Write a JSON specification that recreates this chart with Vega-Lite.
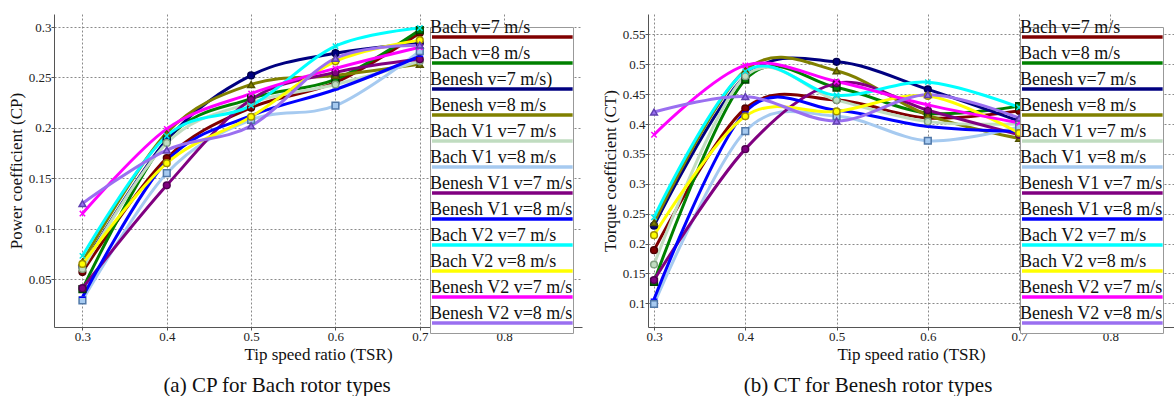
{
  "$schema": "https://vega.github.io/schema/vega-lite/v6.json",
  "padding": {"left": 7, "top": 14, "right": 0, "bottom": 0},
  "config": {
    "view": {"stroke": null},
    "font": "Liberation Serif",
    "axis": {"labelFont": "Liberation Serif", "labelFontSize": 13, "labelColor": "#222", "titleFont": "Liberation Serif", "titleFontSize": 17, "titleFontWeight": "normal", "titleColor": "#111", "gridColor": "#8a8a8a", "gridDash": [2, 2], "gridWidth": 1, "domainColor": "#555", "tickColor": "#555", "tickSize": 3, "labelPadding": 0, "titlePadding": 3},
    "title": {"font": "Liberation Serif", "fontSize": 21, "fontWeight": "normal", "color": "#111"}
  },
  "datasets": {
    "cp": [
      {"s": "Bach v=7 m/s", "x": 0.3, "y": 0.057}, {"s": "Bach v=7 m/s", "x": 0.4, "y": 0.170}, {"s": "Bach v=7 m/s", "x": 0.5, "y": 0.220}, {"s": "Bach v=7 m/s", "x": 0.6, "y": 0.245}, {"s": "Bach v=7 m/s", "x": 0.7, "y": 0.294},
      {"s": "Bach v=8 m/s", "x": 0.3, "y": 0.040}, {"s": "Bach v=8 m/s", "x": 0.4, "y": 0.188}, {"s": "Bach v=8 m/s", "x": 0.5, "y": 0.229}, {"s": "Bach v=8 m/s", "x": 0.6, "y": 0.248}, {"s": "Bach v=8 m/s", "x": 0.7, "y": 0.297},
      {"s": "Benesh v=7 m/s)", "x": 0.3, "y": 0.062}, {"s": "Benesh v=7 m/s)", "x": 0.4, "y": 0.188}, {"s": "Benesh v=7 m/s)", "x": 0.5, "y": 0.252}, {"s": "Benesh v=7 m/s)", "x": 0.6, "y": 0.274}, {"s": "Benesh v=7 m/s)", "x": 0.7, "y": 0.284},
      {"s": "Benesh v=8 m/s", "x": 0.3, "y": 0.067}, {"s": "Benesh v=8 m/s", "x": 0.4, "y": 0.195}, {"s": "Benesh v=8 m/s", "x": 0.5, "y": 0.243}, {"s": "Benesh v=8 m/s", "x": 0.6, "y": 0.252}, {"s": "Benesh v=8 m/s", "x": 0.7, "y": 0.263},
      {"s": "Bach V1 v=7 m/s", "x": 0.3, "y": 0.060}, {"s": "Bach V1 v=7 m/s", "x": 0.4, "y": 0.185}, {"s": "Bach V1 v=7 m/s", "x": 0.5, "y": 0.225}, {"s": "Bach V1 v=7 m/s", "x": 0.6, "y": 0.243}, {"s": "Bach V1 v=7 m/s", "x": 0.7, "y": 0.266},
      {"s": "Bach V1 v=8 m/s", "x": 0.3, "y": 0.029}, {"s": "Bach V1 v=8 m/s", "x": 0.4, "y": 0.155}, {"s": "Bach V1 v=8 m/s", "x": 0.5, "y": 0.208}, {"s": "Bach V1 v=8 m/s", "x": 0.6, "y": 0.222}, {"s": "Bach V1 v=8 m/s", "x": 0.7, "y": 0.276},
      {"s": "Benesh V1 v=7 m/s", "x": 0.3, "y": 0.041}, {"s": "Benesh V1 v=7 m/s", "x": 0.4, "y": 0.143}, {"s": "Benesh V1 v=7 m/s", "x": 0.5, "y": 0.228}, {"s": "Benesh V1 v=7 m/s", "x": 0.6, "y": 0.255}, {"s": "Benesh V1 v=7 m/s", "x": 0.7, "y": 0.268},
      {"s": "Benesh V1 v=8 m/s", "x": 0.3, "y": 0.032}, {"s": "Benesh V1 v=8 m/s", "x": 0.4, "y": 0.167}, {"s": "Benesh V1 v=8 m/s", "x": 0.5, "y": 0.212}, {"s": "Benesh V1 v=8 m/s", "x": 0.6, "y": 0.238}, {"s": "Benesh V1 v=8 m/s", "x": 0.7, "y": 0.271},
      {"s": "Bach V2 v=7 m/s", "x": 0.3, "y": 0.073}, {"s": "Bach V2 v=7 m/s", "x": 0.4, "y": 0.192}, {"s": "Bach V2 v=7 m/s", "x": 0.5, "y": 0.222}, {"s": "Bach V2 v=7 m/s", "x": 0.6, "y": 0.281}, {"s": "Bach V2 v=7 m/s", "x": 0.7, "y": 0.299},
      {"s": "Bach V2 v=8 m/s", "x": 0.3, "y": 0.065}, {"s": "Bach V2 v=8 m/s", "x": 0.4, "y": 0.165}, {"s": "Bach V2 v=8 m/s", "x": 0.5, "y": 0.211}, {"s": "Bach V2 v=8 m/s", "x": 0.6, "y": 0.266}, {"s": "Bach V2 v=8 m/s", "x": 0.7, "y": 0.287},
      {"s": "Benesh V2 v=7 m/s", "x": 0.3, "y": 0.115}, {"s": "Benesh V2 v=7 m/s", "x": 0.4, "y": 0.199}, {"s": "Benesh V2 v=7 m/s", "x": 0.5, "y": 0.234}, {"s": "Benesh V2 v=7 m/s", "x": 0.6, "y": 0.259}, {"s": "Benesh V2 v=7 m/s", "x": 0.7, "y": 0.280},
      {"s": "Benesh V2 v=8 m/s", "x": 0.3, "y": 0.125}, {"s": "Benesh V2 v=8 m/s", "x": 0.4, "y": 0.178}, {"s": "Benesh V2 v=8 m/s", "x": 0.5, "y": 0.202}, {"s": "Benesh V2 v=8 m/s", "x": 0.6, "y": 0.269}, {"s": "Benesh V2 v=8 m/s", "x": 0.7, "y": 0.282}
    ],
    "ct": [
      {"s": "Bach v=7 m/s", "x": 0.3, "y": 0.189}, {"s": "Bach v=7 m/s", "x": 0.4, "y": 0.426}, {"s": "Bach v=7 m/s", "x": 0.5, "y": 0.440}, {"s": "Bach v=7 m/s", "x": 0.6, "y": 0.410}, {"s": "Bach v=7 m/s", "x": 0.7, "y": 0.422},
      {"s": "Bach v=8 m/s", "x": 0.3, "y": 0.136}, {"s": "Bach v=8 m/s", "x": 0.4, "y": 0.474}, {"s": "Bach v=8 m/s", "x": 0.5, "y": 0.461}, {"s": "Bach v=8 m/s", "x": 0.6, "y": 0.418}, {"s": "Bach v=8 m/s", "x": 0.7, "y": 0.430},
      {"s": "Benesh v=7 m/s", "x": 0.3, "y": 0.230}, {"s": "Benesh v=7 m/s", "x": 0.4, "y": 0.480}, {"s": "Benesh v=7 m/s", "x": 0.5, "y": 0.504}, {"s": "Benesh v=7 m/s", "x": 0.6, "y": 0.458}, {"s": "Benesh v=7 m/s", "x": 0.7, "y": 0.405},
      {"s": "Benesh v=8 m/s", "x": 0.3, "y": 0.235}, {"s": "Benesh v=8 m/s", "x": 0.4, "y": 0.490}, {"s": "Benesh v=8 m/s", "x": 0.5, "y": 0.489}, {"s": "Benesh v=8 m/s", "x": 0.6, "y": 0.415}, {"s": "Benesh v=8 m/s", "x": 0.7, "y": 0.376},
      {"s": "Bach V1 v=7 m/s", "x": 0.3, "y": 0.165}, {"s": "Bach V1 v=7 m/s", "x": 0.4, "y": 0.480}, {"s": "Bach V1 v=7 m/s", "x": 0.5, "y": 0.440}, {"s": "Bach V1 v=7 m/s", "x": 0.6, "y": 0.404}, {"s": "Bach V1 v=7 m/s", "x": 0.7, "y": 0.400},
      {"s": "Bach V1 v=8 m/s", "x": 0.3, "y": 0.099}, {"s": "Bach V1 v=8 m/s", "x": 0.4, "y": 0.388}, {"s": "Bach V1 v=8 m/s", "x": 0.5, "y": 0.413}, {"s": "Bach V1 v=8 m/s", "x": 0.6, "y": 0.372}, {"s": "Bach V1 v=8 m/s", "x": 0.7, "y": 0.395},
      {"s": "Benesh V1 v=7 m/s", "x": 0.3, "y": 0.139}, {"s": "Benesh V1 v=7 m/s", "x": 0.4, "y": 0.358}, {"s": "Benesh V1 v=7 m/s", "x": 0.5, "y": 0.468}, {"s": "Benesh V1 v=7 m/s", "x": 0.6, "y": 0.423}, {"s": "Benesh V1 v=7 m/s", "x": 0.7, "y": 0.382},
      {"s": "Benesh V1 v=8 m/s", "x": 0.3, "y": 0.107}, {"s": "Benesh V1 v=8 m/s", "x": 0.4, "y": 0.420}, {"s": "Benesh V1 v=8 m/s", "x": 0.5, "y": 0.423}, {"s": "Benesh V1 v=8 m/s", "x": 0.6, "y": 0.396}, {"s": "Benesh V1 v=8 m/s", "x": 0.7, "y": 0.388},
      {"s": "Bach V2 v=7 m/s", "x": 0.3, "y": 0.244}, {"s": "Bach V2 v=7 m/s", "x": 0.4, "y": 0.488}, {"s": "Bach V2 v=7 m/s", "x": 0.5, "y": 0.448}, {"s": "Bach V2 v=7 m/s", "x": 0.6, "y": 0.470}, {"s": "Bach V2 v=7 m/s", "x": 0.7, "y": 0.428},
      {"s": "Bach V2 v=8 m/s", "x": 0.3, "y": 0.214}, {"s": "Bach V2 v=8 m/s", "x": 0.4, "y": 0.413}, {"s": "Bach V2 v=8 m/s", "x": 0.5, "y": 0.421}, {"s": "Bach V2 v=8 m/s", "x": 0.6, "y": 0.447}, {"s": "Bach V2 v=8 m/s", "x": 0.7, "y": 0.385},
      {"s": "Benesh V2 v=7 m/s", "x": 0.3, "y": 0.382}, {"s": "Benesh V2 v=7 m/s", "x": 0.4, "y": 0.498}, {"s": "Benesh V2 v=7 m/s", "x": 0.5, "y": 0.471}, {"s": "Benesh V2 v=7 m/s", "x": 0.6, "y": 0.432}, {"s": "Benesh V2 v=7 m/s", "x": 0.7, "y": 0.402},
      {"s": "Benesh V2 v=8 m/s", "x": 0.3, "y": 0.420}, {"s": "Benesh V2 v=8 m/s", "x": 0.4, "y": 0.446}, {"s": "Benesh V2 v=8 m/s", "x": 0.5, "y": 0.405}, {"s": "Benesh V2 v=8 m/s", "x": 0.6, "y": 0.449}, {"s": "Benesh V2 v=8 m/s", "x": 0.7, "y": 0.410}
    ]
  },
  "spacing": 19,
  "resolve": {"scale": {"color": "independent", "shape": "independent", "stroke": "independent", "fill": "independent"}, "legend": {"color": "independent"}},
  "hconcat": [
    {
      "width": 528, "height": 313,
      "data": {"name": "cp"},
      "title": {"text": "(a) CP for Bach rotor types", "orient": "bottom", "anchor": "middle", "dx": -41, "offset": 13},
      "encoding": {
        "x": {"field": "x", "type": "quantitative", "scale": {"domain": [0.2663, 0.8923], "nice": false, "zero": false}, "axis": {"title": "Tip speed ratio (TSR)", "values": [0.3, 0.4, 0.5, 0.6, 0.7, 0.8], "format": ".1f"}},
        "y": {"field": "y", "type": "quantitative", "scale": {"domain": [0.0025, 0.3129], "nice": false, "zero": false}, "axis": {"title": "Power coefficient (CP)", "values": [0.05, 0.1, 0.15, 0.2, 0.25, 0.3], "format": ".2~f"}}
      },
      "layer": [
        {"mark": {"type": "line", "interpolate": "cardinal", "strokeWidth": 3},
         "encoding": {
          "color": {"field": "s", "type": "nominal",
            "scale": {"domain": ["Bach v=7 m/s", "Bach v=8 m/s", "Benesh v=7 m/s)", "Benesh v=8 m/s", "Bach V1 v=7 m/s", "Bach V1 v=8 m/s", "Benesh V1 v=7 m/s", "Benesh V1 v=8 m/s", "Bach V2 v=7 m/s", "Bach V2 v=8 m/s", "Benesh V2 v=7 m/s", "Benesh V2 v=8 m/s"],
                      "range": ["#800000", "#008000", "#000080", "#808000", "#c0dcc0", "#a6caf0", "#800080", "#0000ff", "#00ffff", "#ffff00", "#ff00ff", "#9a6ff0"]},
            "legend": {"orient": "none", "legendX": 376, "legendY": 13, "title": null, "symbolType": "stroke", "symbolSize": 21904, "symbolStrokeWidth": 3.5, "clipHeight": 20, "labelFont": "Liberation Serif", "labelFontSize": 18, "labelColor": "#111", "labelBaseline": "bottom", "labelOffset": -152, "labelLimit": 0, "fillColor": "white", "strokeColor": "#999", "padding": 0, "rowPadding": -2}}
         }},
        {"transform": [{"calculate": "datum.s", "as": "m"}],
         "mark": {"type": "point", "filled": true, "size": 45, "opacity": 1, "strokeWidth": 1.5},
         "encoding": {
           "fill": {"field": "m", "type": "nominal", "legend": null,
             "scale": {"domain": ["Bach v=7 m/s", "Bach v=8 m/s", "Benesh v=7 m/s)", "Benesh v=8 m/s", "Bach V1 v=7 m/s", "Bach V1 v=8 m/s", "Benesh V1 v=7 m/s", "Benesh V1 v=8 m/s", "Bach V2 v=7 m/s", "Bach V2 v=8 m/s", "Benesh V2 v=7 m/s", "Benesh V2 v=8 m/s", "none"],
                      "range": ["#800000", "#008000", "#000080", "#808000", "#c0dcc0", "#a6caf0", "#800080", "#0000ff", "#00ffff", "#ffff00", "#ff00ff", "#9a6ff0", "#000000"]}},
           "shape": {"field": "m", "type": "nominal", "legend": null,
             "scale": {"domain": ["Bach v=7 m/s", "Bach v=8 m/s", "Benesh v=7 m/s)", "Benesh v=8 m/s", "Bach V1 v=7 m/s", "Bach V1 v=8 m/s", "Benesh V1 v=7 m/s", "Benesh V1 v=8 m/s", "Bach V2 v=7 m/s", "Bach V2 v=8 m/s", "Benesh V2 v=7 m/s", "Benesh V2 v=8 m/s", "none"],
                       "range": ["circle", "square", "circle", "triangle-up", "circle", "square", "circle", "stroke", "M-0.8,-0.8L0.8,0.8M0.8,-0.8L-0.8,0.8", "circle", "M-0.8,-0.8L0.8,0.8M0.8,-0.8L-0.8,0.8", "triangle-up", "circle"]}},
           "stroke": {"field": "m", "type": "nominal", "legend": null,
             "scale": {"domain": ["Bach v=7 m/s", "Bach v=8 m/s", "Benesh v=7 m/s)", "Benesh v=8 m/s", "Bach V1 v=7 m/s", "Bach V1 v=8 m/s", "Benesh V1 v=7 m/s", "Benesh V1 v=8 m/s", "Bach V2 v=7 m/s", "Bach V2 v=8 m/s", "Benesh V2 v=7 m/s", "Benesh V2 v=8 m/s", "none"],
                       "range": ["#500000", "#004000", "#000050", "#505000", "#80a080", "#5078a8", "#500050", "#0000ff", "#00e8e8", "#a09000", "#ff00ff", "#6040b0", "#000000"]}}
         }}
      ]
    },
    {
      "width": 526, "height": 313,
      "data": {"name": "ct"},
      "title": {"text": "(b) CT for Benesh rotor types", "orient": "bottom", "anchor": "middle", "dx": -43, "offset": 13},
      "encoding": {
        "x": {"field": "x", "type": "quantitative", "scale": {"domain": [0.2934, 0.8697], "nice": false, "zero": false}, "axis": {"title": "Tip speed ratio (TSR)", "values": [0.3, 0.4, 0.5, 0.6, 0.7, 0.8], "format": ".1f"}},
        "y": {"field": "y", "type": "quantitative", "scale": {"domain": [0.0605, 0.584], "nice": false, "zero": false}, "axis": {"title": "Torque coefficient (CT)", "values": [0.1, 0.15, 0.2, 0.25, 0.3, 0.35, 0.4, 0.45, 0.5, 0.55], "format": ".2~f"}}
      },
      "layer": [
        {"mark": {"type": "line", "interpolate": "cardinal", "strokeWidth": 3},
         "encoding": {
          "color": {"field": "s", "type": "nominal",
            "scale": {"domain": ["Bach v=7 m/s", "Bach v=8 m/s", "Benesh v=7 m/s", "Benesh v=8 m/s", "Bach V1 v=7 m/s", "Bach V1 v=8 m/s", "Benesh V1 v=7 m/s", "Benesh V1 v=8 m/s", "Bach V2 v=7 m/s", "Bach V2 v=8 m/s", "Benesh V2 v=7 m/s", "Benesh V2 v=8 m/s"],
                      "range": ["#800000", "#008000", "#000080", "#808000", "#c0dcc0", "#a6caf0", "#800080", "#0000ff", "#00ffff", "#ffff00", "#ff00ff", "#9a6ff0"]},
            "legend": {"orient": "none", "legendX": 372, "legendY": 13, "title": null, "symbolType": "stroke", "symbolSize": 21904, "symbolStrokeWidth": 3.5, "clipHeight": 20, "labelFont": "Liberation Serif", "labelFontSize": 18, "labelColor": "#111", "labelBaseline": "bottom", "labelOffset": -152, "labelLimit": 0, "fillColor": "white", "strokeColor": "#999", "padding": 0, "rowPadding": -2}}
         }},
        {"transform": [{"calculate": "datum.s", "as": "m"}],
         "mark": {"type": "point", "filled": true, "size": 45, "opacity": 1, "strokeWidth": 1.5},
         "encoding": {
           "fill": {"field": "m", "type": "nominal", "legend": null,
             "scale": {"domain": ["Bach v=7 m/s", "Bach v=8 m/s", "Benesh v=7 m/s", "Benesh v=8 m/s", "Bach V1 v=7 m/s", "Bach V1 v=8 m/s", "Benesh V1 v=7 m/s", "Benesh V1 v=8 m/s", "Bach V2 v=7 m/s", "Bach V2 v=8 m/s", "Benesh V2 v=7 m/s", "Benesh V2 v=8 m/s", "none"],
                      "range": ["#800000", "#008000", "#000080", "#808000", "#c0dcc0", "#a6caf0", "#800080", "#0000ff", "#00ffff", "#ffff00", "#ff00ff", "#9a6ff0", "#000000"]}},
           "shape": {"field": "m", "type": "nominal", "legend": null,
             "scale": {"domain": ["Bach v=7 m/s", "Bach v=8 m/s", "Benesh v=7 m/s", "Benesh v=8 m/s", "Bach V1 v=7 m/s", "Bach V1 v=8 m/s", "Benesh V1 v=7 m/s", "Benesh V1 v=8 m/s", "Bach V2 v=7 m/s", "Bach V2 v=8 m/s", "Benesh V2 v=7 m/s", "Benesh V2 v=8 m/s", "none"],
                       "range": ["circle", "square", "circle", "triangle-up", "circle", "square", "circle", "stroke", "M-0.8,-0.8L0.8,0.8M0.8,-0.8L-0.8,0.8", "circle", "M-0.8,-0.8L0.8,0.8M0.8,-0.8L-0.8,0.8", "triangle-up", "circle"]}},
           "stroke": {"field": "m", "type": "nominal", "legend": null,
             "scale": {"domain": ["Bach v=7 m/s", "Bach v=8 m/s", "Benesh v=7 m/s", "Benesh v=8 m/s", "Bach V1 v=7 m/s", "Bach V1 v=8 m/s", "Benesh V1 v=7 m/s", "Benesh V1 v=8 m/s", "Bach V2 v=7 m/s", "Bach V2 v=8 m/s", "Benesh V2 v=7 m/s", "Benesh V2 v=8 m/s", "none"],
                       "range": ["#500000", "#004000", "#000050", "#505000", "#80a080", "#5078a8", "#500050", "#0000ff", "#00e8e8", "#a09000", "#ff00ff", "#6040b0", "#000000"]}}
         }}
      ]
    }
  ]
}
